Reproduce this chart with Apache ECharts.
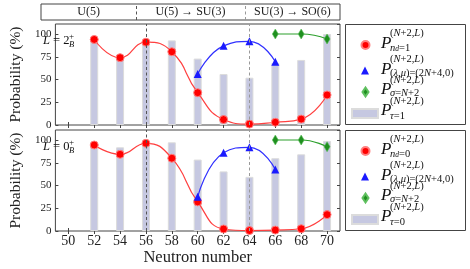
<!DOCTYPE html>
<html><head><meta charset="utf-8">
<script src="https://cdn.jsdelivr.net/npm/echarts@6/dist/echarts.min.js"></script>
<style>html,body{margin:0;padding:0;background:#fff}#c{width:470px;height:269px}</style>
</head><body><div id="c"></div>
<script>
// ---------- data ----------
const xCategories = ['49','50','51','52','53','54','55','56','57','58','59','60','61','62','63','64','65','66','67','68','69','70','71'];
const neutrons = [52,54,56,58,60,62,64,66,68,70];
const blueN = [60,62,64,66];
const greenN = [66,68,70];
// L = 2+ panel
const redTop   = [94, 74, 91, 80.5, 35.5, 6, 1, 3, 6.5, 33];
const blueTop  = [56, 87, 92, 69.5];
const greenTop = [100, 100, 94.5];
const barTop   = [95, 77, 93, 93, 73, 56, 52, 68, 71.5, 100];
// L = 0+ panel
const redBot   = [94.5, 84.3, 96.4, 80, 32, 2.2, 0.5, 1, 2.5, 18];
const blueBot  = [37.7, 86, 92, 67.5];
const greenBot = [100, 100, 92.6];
const barBot   = [96.5, 92, 96.5, 97.5, 78.5, 65.5, 59.5, 80, 84.3, 99];
const regions = [['U(5)','49','56'],['U(5) \u2192 SU(3)','56','64'],['SU(3) \u2192 SO(6)','64','71']];
const dashedAt = ['56','64'];

// ---------- helpers ----------
const SERIF = "'Liberation Serif','DejaVu Serif',serif";
const pts = (ns, vs) => ns.map((n,i)=>[String(n), vs[i]]);
const even = (i, v) => Number(v) % 2 === 0;

const RICH = {
  r10:{fontSize:10.5,fontFamily:SERIF,fill:'#111',color:'#111'},
  i10:{fontSize:10.5,fontFamily:SERIF,fontStyle:'italic',fill:'#111',color:'#111'},
  ss:{fontSize:7.5,fontFamily:SERIF,fontStyle:'italic',fill:'#111',color:'#111',verticalAlign:'bottom'},
  r12:{fontSize:12.5,fontFamily:SERIF,fill:'#111',color:'#111'},
  i12:{fontSize:12.5,fontFamily:SERIF,fontStyle:'italic',fill:'#111',color:'#111'}
};
const rt = parts => parts.map(([t,s]) => '{'+s+'|'+t+'}').join('');
const SUP = rt([['(','r10'],['N','i10'],['+2,','r10'],['L','i10'],[')','r10']]);

function dashLines(){
  return {symbol:'none', silent:true, label:{show:false}, animation:false,
    data: [{xAxis:dashedAt[0], lineStyle:{color:'#555',type:[3,2.5],width:1}},
           {xAxis:dashedAt[1], lineStyle:{color:'#999',type:[3,2.5],width:1}}]};
}

function panelSeries(tag, xi, red, blue, green, bar){
  const common = {type:'line', xAxisIndex:xi, yAxisIndex:xi, smooth:0.5, showSymbol:true,
                  showAllSymbol:true, z:4, animation:false};
  return [
    {name:'bar'+tag, type:'bar', xAxisIndex:xi, yAxisIndex:xi, data:pts(neutrons,bar), barWidth:8,
     itemStyle:{color:'#c6c8e1', borderColor:'#dcdcdc', borderWidth:1}, z:1, markLine:dashLines(), animation:false},
    Object.assign({name:'red'+tag, data:pts(neutrons,red),
     symbol:'circle', symbolSize:8, lineStyle:{color:'#ff4040',width:1.2},
     itemStyle:{color:'#ff0000', borderColor:'#ff8080', borderWidth:1}}, common),
    Object.assign({name:'blue'+tag, data:pts(blueN,blue),
     symbol:'triangle', symbolSize:8, lineStyle:{color:'#3030ff',width:1.2},
     itemStyle:{color:'#1a1aff'}}, common),
    Object.assign({name:'green'+tag, data:pts(greenN,green),
     symbol:'diamond', symbolSize:[6,10], lineStyle:{color:'#2ca02c',width:1.2},
     itemStyle:{color:'#1f8f1f', borderColor:'#60c060', borderWidth:0.6}}, common)
  ];
}

function xAx(gi, pos, labels, name){
  return {type:'category', gridIndex:gi, data:xCategories, boundaryGap:false, position:pos,
    axisLine:{show:false},
    axisTick:{show:true, inside:true, length:3, interval:even, lineStyle:{color:'#444'}},
    axisLabel:{show:labels, interval:even, margin:3,
               fontFamily:SERIF, fontSize:14, color:'#222'},
    name: name||'', nameLocation:'middle', nameGap:11,
    nameTextStyle:{fontFamily:SERIF, fontSize:16.5, color:'#222'}};
}
function yAx(gi, pos, labels){
  return {type:'value', gridIndex:gi, min:0, max:111, interval:25, position:pos,
    axisLine:{show:false}, splitLine:{show:false},
    axisTick:{show:true, inside:true, length:3, lineStyle:{color:'#444'}},
    axisLabel:{show:labels, showMaxLabel:false, margin:4, fontFamily:SERIF, fontSize:11, color:'#222'},
    name: labels ? 'Probability (%)' : '', nameLocation:'middle', nameGap:21, nameRotate:90,
    nameTextStyle:{fontFamily:SERIF, fontSize:15.5, color:'#222'}};
}

// legend layout (icon boxes): pc = P centre, su = superscript centre, sb = subscript centre
const legendSpec = [
  {name:'red',   icon:'circle',   dx:360.5, dy:40,   w:8,  h:8, pc:43.5, su:33,  sb:48},
  {name:'blue',  icon:'triangle', dx:361,   dy:66.5, w:8,  h:8, pc:70,   su:59.5,sb:73.5,
   sub: rt([['(','r10'],['\u03bb','i10'],[',','r10'],['\u03bc','i10'],[')=(2','r10'],['N','i10'],['+4,0)','r10']])},
  {name:'green', icon:'diamond',  dx:361.5, dy:86.5, w:6,  h:9, pc:89.5,  su:80.5, sb:93},
  {name:'bar',   icon:'rect',     dx:351,   dy:108,  w:26, h:9, pc:111,   su:101,  sb:116}
];
legendSpec[2].sub = rt([['\u03c3','i10'],['=','r10'],['N','i10'],['+2','r10']]);
const panels = [{tag:'T', off:0, Lval:'2', nd:'1', tau:'1'}, {tag:'B', off:106, Lval:'0', nd:'0', tau:'0'}];

const legends = [];
const graphics = [];
panels.forEach(p => {
  graphics.push({type:'rect', shape:{x:345.5, y:24.5+p.off, width:120, height:100},
    style:{fill:'none', stroke:'#444', lineWidth:1}, silent:true});
  legendSpec.forEach(s => {
    legends.push({data:[{name:s.name+p.tag, icon:s.icon}], left:s.dx, top:s.dy+p.off,
      itemWidth:s.w, itemHeight:s.h, padding:0, selectedMode:false,
      formatter:()=>'', textStyle:{fontSize:1, lineHeight:1}});
    let sub = s.sub;
    if (s.name==='red') sub = rt([['n','i10'],['d','ss'],['='+p.nd,'r10']]);
    if (s.name==='bar') sub = rt([['\u03c4','i10'],['='+p.tau,'r10']]);
    graphics.push({type:'text', x:381, y:s.pc+p.off, silent:true,
      style:{text:'P', fontFamily:SERIF, fontSize:17, fontStyle:'italic', fill:'#111', verticalAlign:'middle'}});
    graphics.push({type:'text', x:390, y:s.su+p.off, silent:true,
      style:{text:SUP, rich:RICH, verticalAlign:'middle', align:'left'}});
    graphics.push({type:'text', x:390, y:s.sb+p.off, silent:true,
      style:{text:sub, rich:RICH, verticalAlign:'middle', align:'left'}});
  });
  // L = 2_B^+ label
  graphics.push({type:'text', x:43, y:41+p.off, silent:true,
    style:{text:rt([['L','i12'],[' = '+p.Lval,'r12']]), rich:RICH, verticalAlign:'middle'}});
  graphics.push({type:'text', x:69, y:36.5+p.off, silent:true,
    style:{text:'+', fontFamily:SERIF, fontSize:9, fill:'#111', verticalAlign:'middle'}});
  graphics.push({type:'text', x:69, y:44.5+p.off, silent:true,
    style:{text:'B', fontFamily:SERIF, fontSize:8.5, fontStyle:'italic', fill:'#111', verticalAlign:'middle'}});
});

const option = {
  animation:false,
  grid:[
    {left:41, top:4, width:299, height:16, show:true, borderColor:'#444', borderWidth:1},
    {left:41, top:24, width:299, height:101, show:true, borderColor:'#444', borderWidth:1},
    {left:41, top:130, width:299, height:101, show:true, borderColor:'#444', borderWidth:1}
  ],
  xAxis:[
    {type:'category', gridIndex:0, data:xCategories, boundaryGap:false, show:false},
    xAx(1,'bottom',false), xAx(2,'bottom',true,'Neutron number'),
    xAx(1,'top',false), xAx(2,'top',false)
  ],
  yAxis:[
    {type:'value', gridIndex:0, min:0, max:1, show:false},
    yAx(1,'left',true), yAx(2,'left',true),
    yAx(1,'right',false), yAx(2,'right',false)
  ],
  legend: legends,
  graphic: graphics,
  series:[
    {name:'header', type:'line', xAxisIndex:0, yAxisIndex:0, data:[], silent:true,
     markLine:dashLines(),
     markArea:{silent:true, itemStyle:{color:'rgba(0,0,0,0)'},
       label:{show:true, position:'inside', fontFamily:SERIF, fontSize:12, color:'#222'},
       data: regions.map(r => [{name:r[0], xAxis:r[1]}, {xAxis:r[2]}])}},
    ...panelSeries('T', 1, redTop, blueTop, greenTop, barTop),
    ...panelSeries('B', 2, redBot, blueBot, greenBot, barBot)
  ]
};
const chart = echarts.init(document.getElementById('c'), null, {renderer:'canvas'});
chart.setOption(option);
</script></body></html>
